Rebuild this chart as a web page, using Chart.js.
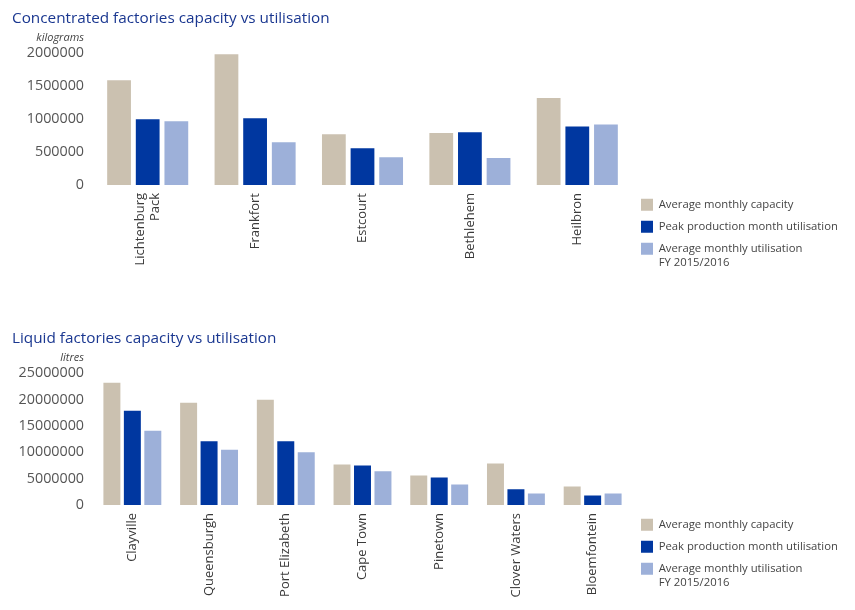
<!DOCTYPE html>
<html>
<head>
<meta charset="utf-8">
<script src="https://cdn.jsdelivr.net/npm/chart.js@4/dist/chart.umd.min.js"></script>
<style>
  html, body { margin: 0; padding: 0; background: #fff; }
  .box { position: absolute; left: 0; width: 855px; height: 290px; }
</style>
</head>
<body>
<div class="box" style="top:0"><canvas id="concChart"></canvas></div>
<div class="box" style="top:320px"><canvas id="liquidChart"></canvas></div>
<script>
// series names (last one wraps onto two lines in the legend)
const seriesNames = [
  'Average monthly capacity',
  'Peak production month utilisation',
  ['Average monthly utilisation', 'FY 2015/2016']
];
const seriesColors = ['#cbc1b0', '#0037a0', '#9db0d9'];

// concentrated factories (kilograms)
const concFactories = [['Lichtenburg', 'Pack'], 'Frankfort', 'Estcourt', 'Bethlehem', 'Heilbron'];
const concCapacity = [1590000, 1985000, 770000, 790000, 1320000];
const concPeak = [1000000, 1015000, 560000, 800000, 890000];
const concAverage = [970000, 650000, 420000, 410000, 920000];
const concTicks = { max: 2000000, step: 500000 };

// liquid factories (litres)
const liquidFactories = ['Clayville', 'Queensburgh', 'Port Elizabeth', 'Cape Town', 'Pinetown', 'Clover Waters', 'Bloemfontein'];
const liquidCapacity = [23200000, 19400000, 20000000, 7700000, 5600000, 7900000, 3500000];
const liquidPeak = [17900000, 12100000, 12100000, 7500000, 5200000, 3000000, 1800000];
const liquidAverage = [14100000, 10500000, 10000000, 6400000, 3900000, 2200000, 2200000];
const liquidTicks = { max: 25000000, step: 5000000 };

const FONT = '"Open Sans", "DejaVu Sans", sans-serif';

// small italic unit text above the y axis
const unitLabel = {
  id: 'unitLabel',
  afterDraw(chart, args, opts) {
    const ctx = chart.ctx;
    const y = chart.scales.y;
    ctx.save();
    ctx.font = 'italic 11px ' + FONT;
    ctx.fillStyle = '#444';
    ctx.textAlign = 'right';
    ctx.textBaseline = 'middle';
    ctx.fillText(opts.text, y.right - 10, chart.chartArea.top - 16);
    ctx.restore();
  }
};

// vertical category labels, multi-line ones centred on their tick
const verticalLabels = {
  id: 'verticalLabels',
  afterDraw(chart, args, opts) {
    const ctx = chart.ctx;
    const x = chart.scales.x;
    const lh = 15;
    ctx.save();
    ctx.font = '13px ' + FONT;
    ctx.fillStyle = '#3a3a3a';
    ctx.textAlign = 'right';
    ctx.textBaseline = 'middle';
    chart.data.labels.forEach((label, i) => {
      const lines = Array.isArray(label) ? label : [label];
      ctx.save();
      ctx.translate(x.getPixelForTick(i), chart.chartArea.bottom + 8);
      ctx.rotate(-Math.PI / 2);
      lines.forEach((line, j) => {
        ctx.fillText(line, 0, (j - (lines.length - 1) / 2) * lh);
      });
      ctx.restore();
    });
    ctx.restore();
  }
};

function makeChart(id, title, unit, labels, values, ticks) {
  const datasets = values.map((data, i) => ({
    label: seriesNames[i],
    data: data,
    backgroundColor: seriesColors[i],
    borderWidth: 0,
    categoryPercentage: 0.8,
    barPercentage: 0.83
  }));

  return new Chart(document.getElementById(id), {
    type: 'bar',
    data: { labels: labels, datasets: datasets },
    plugins: [unitLabel, verticalLabels],
    options: {
      responsive: true,
      maintainAspectRatio: false,
      animation: false,
      layout: { padding: { left: 12, right: 12, top: 9, bottom: 9 } },
      plugins: {
        title: {
          display: true,
          text: title,
          align: 'start',
          color: '#1a3790',
          font: { family: FONT, size: 15.3, weight: 'normal', lineHeight: 1.2 },
          padding: { top: 0, bottom: 26 }
        },
        legend: {
          position: 'right',
          align: 'end',
          maxWidth: 212,
          labels: {
            boxWidth: 12,
            boxHeight: 12,
            padding: 10,
            color: '#444',
            font: { family: FONT, size: 11.3, lineHeight: 1.25 }
          }
        },
        tooltip: { enabled: false },
        unitLabel: { text: unit }
      },
      scales: {
        x: {
          grid: { display: false, drawTicks: false },
          border: { display: false },
          afterFit: s => { s.height = 96; },
          ticks: { display: false, autoSkip: false }
        },
        y: {
          min: 0,
          max: ticks.max,
          grid: { display: false, drawTicks: false },
          border: { display: false },
          afterFit: s => { s.width = 82; },
          ticks: {
            stepSize: ticks.step,
            padding: 10,
            color: '#555',
            font: { family: FONT, size: 14.3 },
            callback: v => String(v)
          }
        }
      }
    }
  });
}

makeChart('concChart', 'Concentrated factories capacity vs utilisation', 'kilograms',
  concFactories, [concCapacity, concPeak, concAverage], concTicks);
makeChart('liquidChart', 'Liquid factories capacity vs utilisation', 'litres',
  liquidFactories, [liquidCapacity, liquidPeak, liquidAverage], liquidTicks);
</script>
</body>
</html>
